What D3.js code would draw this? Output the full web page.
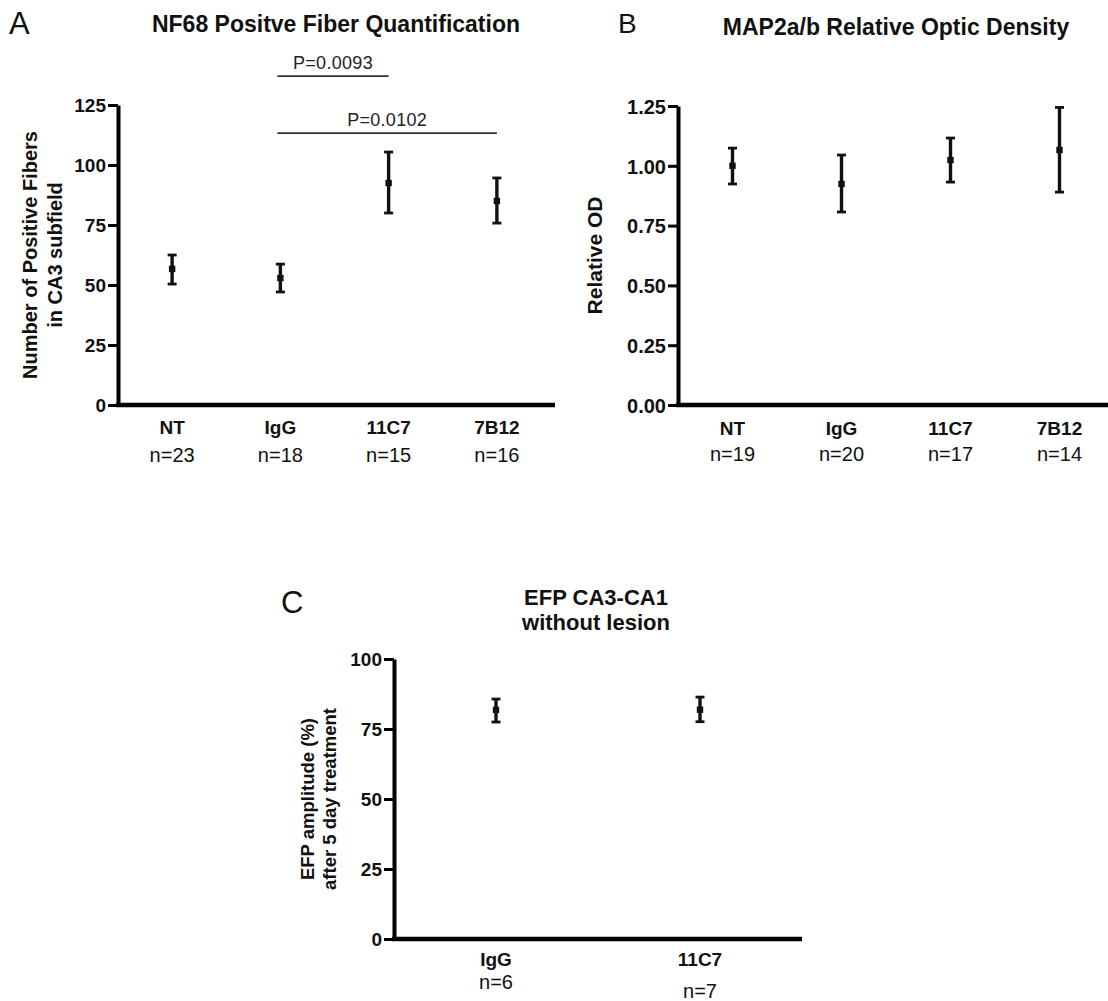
<!DOCTYPE html>
<html>
<head>
<meta charset="utf-8">
<script src="https://cdn.jsdelivr.net/npm/d3@7"></script>
<style>
  body { margin: 0; background: #fff; }
  svg { font-family: "Liberation Sans", Arial, sans-serif; }
</style>
</head>
<body>
<svg id="chart" width="1108" height="1001"></svg>
<script>
// Panel A - NF68 positive fibers
const groupsA = ['NT', 'IgG', '11C7', '7B12'];
const countsA = [23, 18, 15, 16];
const meanA = [56.7, 52.9, 92.5, 85.0];
const lowA = [50.4, 47.1, 80.0, 75.8];
const highA = [62.5, 58.7, 105.4, 94.6];
const ticksA = [0, 25, 50, 75, 100, 125];
const sigA = [
  { from: 'IgG', to: '11C7', level: 137, label: 'P=0.0093' },
  { from: 'IgG', to: '7B12', level: 113.3, label: 'P=0.0102' }
];

// Panel B - MAP2a/b relative OD
const groupsB = ['NT', 'IgG', '11C7', '7B12'];
const countsB = [19, 20, 17, 14];
const meanB = [1.0, 0.924, 1.024, 1.066];
const lowB = [0.924, 0.807, 0.932, 0.89];
const highB = [1.074, 1.045, 1.116, 1.244];
const ticksB = [0, 0.25, 0.5, 0.75, 1.0, 1.25];

// Panel C - EFP amplitude
const groupsC = ['IgG', '11C7'];
const countsC = [6, 7];
const meanC = [81.8, 81.9];
const lowC = [77.5, 77.6];
const highC = [85.7, 86.4];
const ticksC = [0, 25, 50, 75, 100];

const svg = d3.select('#chart');

function drawPanel(p) {
  const g = svg.append('g');

  const x = d3.scaleBand().domain(p.groups).range([p.left, p.right]);
  const y = d3.scaleLinear().domain([0, p.max]).range([p.bottom, p.top]);

  // y axis
  const yAxis = d3.axisLeft(y)
    .tickValues(p.ticks)
    .tickSize(10)
    .tickPadding(2)
    .tickSizeOuter(0)
    .tickFormat(p.format);

  const ya = g.append('g')
    .attr('transform', `translate(${p.left},0)`)
    .call(yAxis)
    .attr('font-family', null);
  ya.select('.domain').attr('stroke', '#000').attr('stroke-width', 4);
  ya.selectAll('.tick line').attr('stroke', '#000').attr('stroke-width', 3);
  ya.selectAll('.tick text')
    .attr('fill', '#111')
    .attr('font-size', p.tickFont)
    .attr('font-weight', 'bold')
    .attr('dy', '0.36em');

  // x axis line
  g.append('line')
    .attr('x1', p.left - 2)
    .attr('x2', p.axisEnd)
    .attr('y1', y(0))
    .attr('y2', y(0))
    .attr('stroke', '#000')
    .attr('stroke-width', 4.5);

  // category labels
  p.groups.forEach((d, i) => {
    const cx = x(d) + x.bandwidth() / 2;
    g.append('text')
      .attr('x', cx)
      .attr('y', y(0) + p.catDy)
      .attr('text-anchor', 'middle')
      .attr('font-size', p.catFont)
      .attr('font-weight', 'bold')
      .attr('fill', '#111')
      .text(d);
    g.append('text')
      .attr('x', cx)
      .attr('y', y(0) + p.nDy + (p.nShift ? p.nShift[i] : 0))
      .attr('text-anchor', 'middle')
      .attr('font-size', p.nFont)
      .attr('fill', '#111')
      .text('n=' + p.counts[i]);
  });

  // error bars
  const cap = 4.5;
  p.groups.forEach((d, i) => {
    const cx = x(d) + x.bandwidth() / 2;
    g.append('line')
      .attr('x1', cx).attr('x2', cx)
      .attr('y1', y(p.low[i])).attr('y2', y(p.high[i]))
      .attr('stroke', '#111').attr('stroke-width', 3.4);
    [p.low[i], p.high[i]].forEach(v => {
      g.append('line')
        .attr('x1', cx - cap).attr('x2', cx + cap)
        .attr('y1', y(v)).attr('y2', y(v))
        .attr('stroke', '#111').attr('stroke-width', 2.8);
    });
    g.append('rect')
      .attr('x', cx - 3.2).attr('y', y(p.mean[i]) - 3.2)
      .attr('width', 6.4).attr('height', 6.4)
      .attr('fill', '#111');
  });

  // significance lines
  (p.sig || []).forEach(s => {
    const x1 = x(s.from) + x.bandwidth() / 2 - 3;
    const x2 = x(s.to) + x.bandwidth() / 2;
    g.append('line')
      .attr('x1', x1).attr('x2', x2)
      .attr('y1', y(s.level)).attr('y2', y(s.level))
      .attr('stroke', '#333').attr('stroke-width', 1.8);
    g.append('text')
      .attr('x', (x1 + x2) / 2)
      .attr('y', y(s.level) - 7)
      .attr('text-anchor', 'middle')
      .attr('font-size', 18)
      .attr('letter-spacing', 0.3)
      .attr('fill', '#222')
      .text(s.label);
  });

  // y axis title
  const midY = (y(0) + y(p.max)) / 2;
  p.yTitle.forEach((t, i) => {
    g.append('text')
      .attr('transform', `translate(${p.yTitleX[i]},${midY}) rotate(-90)`)
      .attr('text-anchor', 'middle')
      .attr('font-size', p.yTitleFont)
      .attr('font-weight', 'bold')
      .attr('fill', '#111')
      .text(t);
  });

  // title
  p.title.forEach((t, i) => {
    g.append('text')
      .attr('x', p.titleX)
      .attr('y', p.titleY + i * 25)
      .attr('text-anchor', 'middle')
      .attr('font-size', p.titleFont)
      .attr('font-weight', 'bold')
      .attr('fill', '#111')
      .text(t);
  });

  // panel letter
  g.append('text')
    .attr('x', p.letterX)
    .attr('y', p.letterY)
    .attr('font-size', p.letterFont)
    .attr('fill', '#111')
    .text(p.letter);
}

drawPanel({
  groups: groupsA, counts: countsA, mean: meanA, low: lowA, high: highA,
  ticks: ticksA, max: 125, format: d3.format('d'), sig: sigA,
  left: 118, right: 551, axisEnd: 555, top: 105, bottom: 405,
  tickFont: 19, catFont: 19, nFont: 20, catDy: 29, nDy: 57,
  yTitle: ['Number of Positive Fibers', 'in CA3 subfield'], yTitleX: [37, 62], yTitleFont: 20,
  title: ['NF68 Positve Fiber Quantification'], titleX: 336, titleY: 32, titleFont: 23,
  letter: 'A', letterX: 9, letterY: 34, letterFont: 31
});

drawPanel({
  groups: groupsB, counts: countsB, mean: meanB, low: lowB, high: highB,
  ticks: ticksB, max: 1.25, format: d3.format('.2f'),
  left: 678, right: 1114, axisEnd: 1108, top: 106, bottom: 405,
  tickFont: 20, catFont: 19, nFont: 20, catDy: 30, nDy: 56,
  yTitle: ['Relative OD'], yTitleX: [602], yTitleFont: 21,
  title: ['MAP2a/b Relative Optic Density'], titleX: 896, titleY: 35, titleFont: 23,
  letter: 'B', letterX: 618, letterY: 33, letterFont: 28
});

drawPanel({
  groups: groupsC, counts: countsC, mean: meanC, low: lowC, high: highC,
  ticks: ticksC, max: 100, format: d3.format('d'),
  left: 394, right: 802, axisEnd: 802, top: 659, bottom: 939,
  tickFont: 19, catFont: 19, nFont: 20, catDy: 27, nDy: 50, nShift: [0, 9],
  yTitle: ['EFP amplitude (%)', 'after 5 day treatment'], yTitleX: [314, 336], yTitleFont: 18.5,
  title: ['EFP CA3-CA1', 'without lesion'], titleX: 596, titleY: 605, titleFont: 22,
  letter: 'C', letterX: 281, letterY: 613, letterFont: 31
});
</script>
</body>
</html>
